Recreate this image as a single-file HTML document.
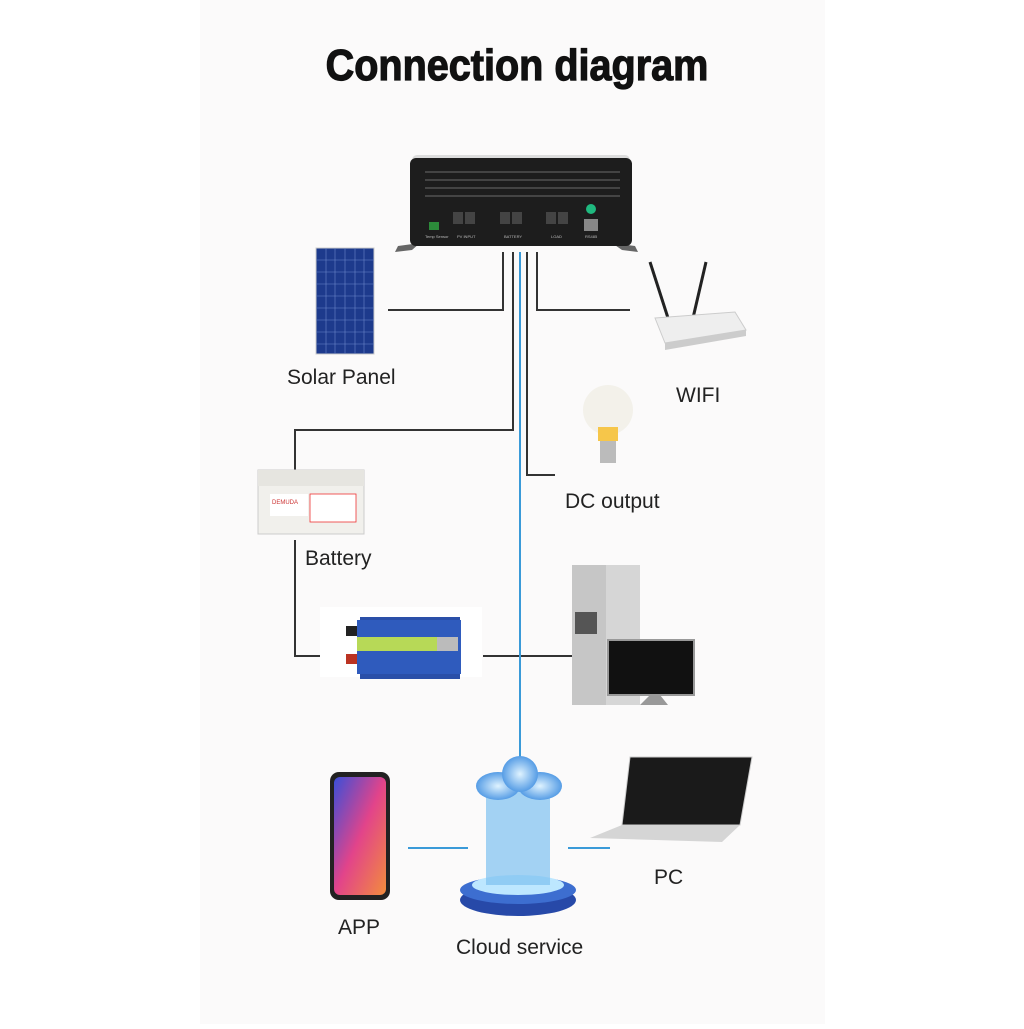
<!DOCTYPE html>
<html><head><meta charset="utf-8"><style>
body{margin:0;width:1024px;height:1024px;background:#fff;overflow:hidden;font-family:"Liberation Sans",sans-serif}
</style></head><body>
<svg width="1024" height="1024" viewBox="0 0 1024 1024" xmlns="http://www.w3.org/2000/svg" font-family="Liberation Sans, sans-serif">
<rect x="200" y="0" width="625" height="1024" fill="#fbfafa"/>
<text x="517" y="80" text-anchor="middle" font-size="44" font-weight="bold" fill="#111" stroke="#111" stroke-width="1.2" transform="translate(517 0) scale(0.9 1) translate(-517 0)">Connection diagram</text>
<g fill="none" stroke="#333" stroke-width="2">
<polyline points="503,252 503,310 388,310"/>
<polyline points="513,252 513,430 295,430 295,470"/>
<polyline points="527,252 527,475 555,475"/>
<polyline points="537,252 537,310 630,310"/>
<polyline points="295,540 295,656 320,656"/>
<line x1="483" y1="656" x2="572" y2="656"/>
</g>
<g stroke="#3a9ad8" stroke-width="2">
<line x1="520" y1="252" x2="520" y2="760"/>
<line x1="408" y1="848" x2="468" y2="848"/>
<line x1="568" y1="848" x2="610" y2="848"/>
</g>
<path d="M412,250 L395,252 L398,246 L420,243 Z" fill="#666"/>
<path d="M622,250 L638,252 L635,246 L612,243 Z" fill="#666"/>
<rect x="412" y="155" width="218" height="12" rx="5" fill="#ddd"/>
<rect x="410" y="158" width="222" height="88" rx="6" fill="#1d1d1d"/>
<g stroke="#444" stroke-width="2">
<line x1="425" y1="172" x2="620" y2="172"/><line x1="425" y1="180" x2="620" y2="180"/><line x1="425" y1="188" x2="620" y2="188"/><line x1="425" y1="196" x2="620" y2="196"/>
</g>
<g fill="#444"><rect x="453" y="212" width="10" height="12"/><rect x="465" y="212" width="10" height="12"/><rect x="500" y="212" width="10" height="12"/><rect x="512" y="212" width="10" height="12"/><rect x="546" y="212" width="10" height="12"/><rect x="558" y="212" width="10" height="12"/></g>
<rect x="429" y="222" width="10" height="8" fill="#2c8a3a"/>
<circle cx="591" cy="209" r="5" fill="#1fb97f"/>
<rect x="584" y="219" width="14" height="12" fill="#888"/>
<g fill="#bbb" font-size="4"><text x="425" y="238">Temp Sensor</text><text x="457" y="238">PV INPUT</text><text x="504" y="238">BATTERY</text><text x="551" y="238">LOAD</text><text x="585" y="238">RS485</text></g>
<rect x="316" y="248" width="58" height="106" fill="#1d3a8c" stroke="#ccc"/>
<g stroke="#6d86c9" stroke-width="0.6">
<line x1="326" y1="248" x2="326" y2="354"/><line x1="335" y1="248" x2="335" y2="354"/><line x1="345" y1="248" x2="345" y2="354"/><line x1="355" y1="248" x2="355" y2="354"/><line x1="364" y1="248" x2="364" y2="354"/>
<line x1="316" y1="260" x2="374" y2="260"/><line x1="316" y1="272" x2="374" y2="272"/><line x1="316" y1="284" x2="374" y2="284"/><line x1="316" y1="296" x2="374" y2="296"/><line x1="316" y1="308" x2="374" y2="308"/><line x1="316" y1="320" x2="374" y2="320"/><line x1="316" y1="332" x2="374" y2="332"/><line x1="316" y1="344" x2="374" y2="344"/>
</g>
<line x1="650" y1="262" x2="668" y2="318" stroke="#222" stroke-width="3"/>
<line x1="706" y1="262" x2="693" y2="318" stroke="#222" stroke-width="3"/>
<path d="M655,318 L735,312 L746,330 L665,343 Z" fill="#eee" stroke="#ccc"/>
<path d="M665,343 L746,330 L746,336 L665,350 Z" fill="#ccc"/>
<circle cx="608" cy="410" r="25" fill="#f3f1ea"/>
<rect x="598" y="427" width="20" height="14" fill="#f6c64a"/>
<rect x="600" y="441" width="16" height="22" fill="#bbb"/>
<rect x="258" y="470" width="106" height="64" fill="#f1f0ec" stroke="#ccc"/>
<rect x="258" y="470" width="106" height="16" fill="#e6e5e0"/>
<rect x="270" y="494" width="38" height="22" fill="#fff"/><rect x="310" y="494" width="46" height="28" fill="#fff" stroke="#e33" stroke-width="0.8"/>
<text x="272" y="504" font-size="6" fill="#c33">DEMUDA</text>
<rect x="320" y="607" width="162" height="70" fill="#fff"/>
<rect x="360" y="617" width="100" height="62" fill="#2a4fa8"/>
<rect x="357" y="620" width="104" height="54" fill="#2f5bbd"/>
<rect x="357" y="637" width="80" height="14" fill="#b7d957"/>
<rect x="437" y="637" width="21" height="14" fill="#bbb"/>
<rect x="346" y="626" width="11" height="10" fill="#222"/><rect x="346" y="654" width="11" height="10" fill="#b32"/>
<rect x="572" y="565" width="68" height="140" fill="#d6d6d6"/>
<rect x="572" y="565" width="34" height="140" fill="#c6c6c6"/>
<rect x="575" y="612" width="22" height="22" fill="#555"/>
<rect x="608" y="640" width="86" height="55" fill="#111" stroke="#999" stroke-width="2"/>
<path d="M650,695 L640,705 L668,705 L660,695 Z" fill="#999"/>
<rect x="330" y="772" width="60" height="128" rx="9" fill="#222"/>
<defs>
<linearGradient id="ph" x1="0" y1="0" x2="1" y2="1"><stop offset="0" stop-color="#3b4fd8"/><stop offset=".5" stop-color="#e2448a"/><stop offset="1" stop-color="#f28c3c"/></linearGradient>
<radialGradient id="cl" cx=".5" cy=".5" r=".6"><stop offset="0" stop-color="#dff3ff"/><stop offset="1" stop-color="#3a8be0"/></radialGradient>
</defs>
<rect x="334" y="777" width="52" height="118" rx="6" fill="url(#ph)"/>
<ellipse cx="518" cy="900" rx="58" ry="16" fill="#2749a8"/>
<ellipse cx="518" cy="890" rx="58" ry="14" fill="#3d6ed0"/>
<ellipse cx="518" cy="885" rx="46" ry="10" fill="#bde7ff"/>
<rect x="486" y="790" width="64" height="95" fill="#7ec0f0" opacity=".7"/>
<ellipse cx="498" cy="786" rx="22" ry="14" fill="url(#cl)"/>
<ellipse cx="540" cy="786" rx="22" ry="14" fill="url(#cl)"/>
<circle cx="520" cy="774" r="18" fill="url(#cl)"/>
<path d="M630,757 L752,757 L740,825 L622,825 Z" fill="#1a1a1a" stroke="#ccc"/>
<path d="M622,825 L740,825 L722,842 L590,838 Z" fill="#d5d5d5"/>
<g font-size="21" fill="#222">
<text x="287" y="384">Solar Panel</text>
<text x="676" y="402">WIFI</text>
<text x="565" y="508">DC output</text>
<text x="305" y="565">Battery</text>
<text x="654" y="884">PC</text>
<text x="338" y="934">APP</text>
<text x="456" y="954">Cloud service</text>
</g>
</svg>
</body></html>
